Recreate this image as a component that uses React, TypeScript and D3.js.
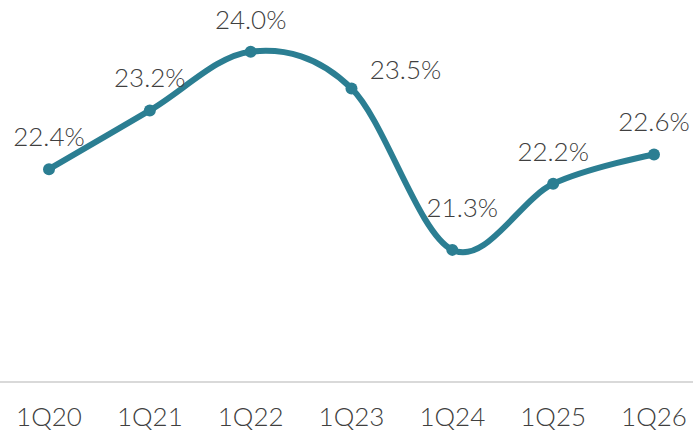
import React from "react";
import * as d3 from "d3";

const categories = ["1Q20", "1Q21", "1Q22", "1Q23", "1Q24", "1Q25", "1Q26"];
const values = [22.4, 23.2, 24.0, 23.5, 21.3, 22.2, 22.6];
const labels = ["22.4%", "23.2%", "24.0%", "23.5%", "21.3%", "22.2%", "22.6%"];
// label placement relative to point (dx, dy of text baseline-center)
const labelDx = [0, 0, 0, 54, 10, 0, 0];
const labelDy = [-23, -23, -23, -9, -33, -23, -23];

const W = 693;
const H = 433;
const COLOR = "#2b7e92";
const TEXT = "#404040";
const FONT = "Lato, 'Open Sans', sans-serif";

export default function App() {
  const x = d3.scalePoint<string>().domain(categories).range([49, 654]);
  const y = d3.scaleLinear().domain([19.5, 24.5]).range([382, 15]);
  const pts: [number, number][] = values.map((v, i) => [x(categories[i])!, y(v)]);
  const line = d3.line().curve(d3.curveCardinal.tension(0));
  return (
    <svg
      width={W}
      height={H}
      style={{ position: "absolute", left: 0, top: 0, background: "#fff" }}
    >
      <line x1={0} x2={W} y1={y(19.5)} y2={y(19.5)} stroke="#d9d9d9" strokeWidth={2} />
      {categories.map((c) => (
        <text
          key={c}
          x={x(c)}
          y={426}
          textAnchor="middle"
          fontFamily={FONT}
          fontSize={26}
          fontWeight={300}
          fill={TEXT}
        >
          {c}
        </text>
      ))}
      <path d={line(pts) || ""} fill="none" stroke={COLOR} strokeWidth={6} strokeLinecap="round" />
      {pts.map((p, i) => (
        <circle key={i} cx={p[0]} cy={p[1]} r={6} fill={COLOR} />
      ))}
      {pts.map((p, i) => (
        <text
          key={"l" + i}
          x={p[0] + labelDx[i]}
          y={p[1] + labelDy[i]}
          textAnchor="middle"
          fontFamily={FONT}
          fontSize={26}
          fontWeight={300}
          fill={TEXT}
        >
          {labels[i]}
        </text>
      ))}
    </svg>
  );
}
